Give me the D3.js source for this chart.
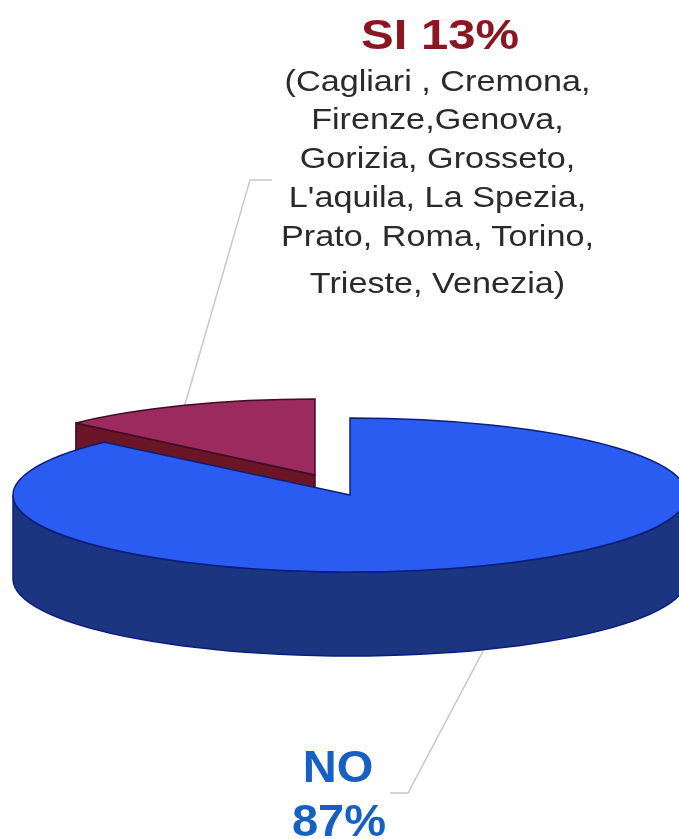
<!DOCTYPE html>
<html>
<head>
    <meta charset="utf-8">
    <script src="https://d3js.org/d3.v7.min.js"></script>
    <style>
        html, body { margin: 0; padding: 0; background: #fff; overflow: hidden; }
        text { font-family: "Liberation Sans", Arial, sans-serif; text-anchor: middle; }
    </style>
</head>
<body>
    <div id="chart"></div>
    <script type="text/javascript">
    // data
    var categories = ["NO", "SI"];
    var values = [87, 13];
    var siCities = [
        "(Cagliari , Cremona,",
        "Firenze,Genova,",
        "Gorizia, Grosseto,",
        "L'aquila, La Spezia,",
        "Prato, Roma, Torino,",
        "Trieste, Venezia)"
    ];
    var topColors = ["#2b5cf2", "#9b2b5e"];
    var wallColors = ["#1a3581", "#6b1428"];
    var strokeColors = ["#0b1f7a", "#3f0a24"];

    var width = 679, height = 839;
    var radii = [337, 328], ry = [77, 76], depth = 84;
    // centre of the pie, red slice is pulled out towards the back left
    var centers = [{ x: 350, y: 495 }, { x: 315, y: 475 }];

    var root = d3.select("#chart").append("svg")
        .attr("width", width)
        .attr("height", height);

    // the source picture is a soft, low quality image
    root.append("filter").attr("id", "soft")
        .append("feGaussianBlur").attr("stdDeviation", 0.55);
    var svg = root.append("g").attr("filter", "url(#soft)");

    var slices = d3.pie().sort(null).value(d => d)(values);

    // point on the tilted circle, angle 0 is at the top, clockwise
    function pt(i, a, dy) {
        return [centers[i].x + radii[i] * Math.sin(a), centers[i].y - ry[i] * Math.cos(a) + (dy || 0)];
    }

    var line = d3.line();

    // blue wall: front half of the rim only
    function rimWall(i) {
        var top = d3.range(0, 61).map(k => pt(i, Math.PI / 2 + k / 60 * Math.PI));
        var bottom = top.slice().reverse().map(p => [p[0], p[1] + depth]);
        return line(top.concat(bottom)) + "Z";
    }

    // red wall: the cut face from the rim back to the centre
    function cutWall(i, a) {
        var c = centers[i], p = pt(i, a);
        return line([p, [c.x, c.y], [c.x, c.y + depth], [p[0], p[1] + depth]]) + "Z";
    }

    function drawTop(i) {
        var arc = d3.arc().innerRadius(0).outerRadius(radii[i]);
        svg.append("path")
            .attr("d", arc(slices[i]))
            .attr("transform", "translate(" + centers[i].x + "," + centers[i].y + ") scale(1," + (ry[i] / radii[i]) + ")")
            .attr("fill", topColors[i])
            .attr("stroke", strokeColors[i])
            .attr("stroke-width", 1.5)
            .attr("vector-effect", "non-scaling-stroke");
    }

    // leader lines start from the middle of each slice rim
    var siMid = (slices[1].startAngle + slices[1].endAngle) / 2;
    var noMid = (slices[0].startAngle + slices[0].endAngle) / 2;

    svg.append("path")
        .attr("d", line([pt(1, siMid), [250, 180], [272, 180]]))
        .attr("fill", "none")
        .attr("stroke", "#c8c8c8")
        .attr("stroke-width", 1.5);
    svg.append("path")
        .attr("d", line([pt(0, noMid, depth), [408, 793], [390, 793]]))
        .attr("fill", "none")
        .attr("stroke", "#c8c8c8")
        .attr("stroke-width", 1.5);

    // red slice first, the blue one covers the lower part of its wall
    svg.append("path")
        .attr("d", cutWall(1, slices[1].startAngle))
        .attr("fill", wallColors[1])
        .attr("stroke", strokeColors[1])
        .attr("stroke-width", 1.5);
    drawTop(1);

    svg.append("path")
        .attr("d", rimWall(0))
        .attr("fill", wallColors[0])
        .attr("stroke", strokeColors[0])
        .attr("stroke-width", 1.5);
    drawTop(0);

    // labels, the source text is stretched sideways a bit
    function label(str, x, y, size, stretch, color, bold) {
        svg.append("text")
            .attr("transform", "translate(" + x + "," + y + ") scale(" + stretch + ",1)")
            .attr("font-size", size)
            .attr("font-weight", bold ? "bold" : "normal")
            .attr("fill", color)
            .text(str);
    }

    label(categories[1] + " " + values[1] + "%", 440, 49, 43, 1.14, "#8a1420", true);

    var cityY = [91, 129, 168, 207, 246, 293];
    siCities.forEach(function (d, i) {
        label(d, 437.5, cityY[i], 30, 1.14, "#2a2a2a", false);
    });

    label(categories[0], 338, 782, 44, 1.07, "#1560c4", true);
    label(values[0] + "%", 339, 836, 44, 1.07, "#1560c4", true);
    </script>
</body>
</html>
